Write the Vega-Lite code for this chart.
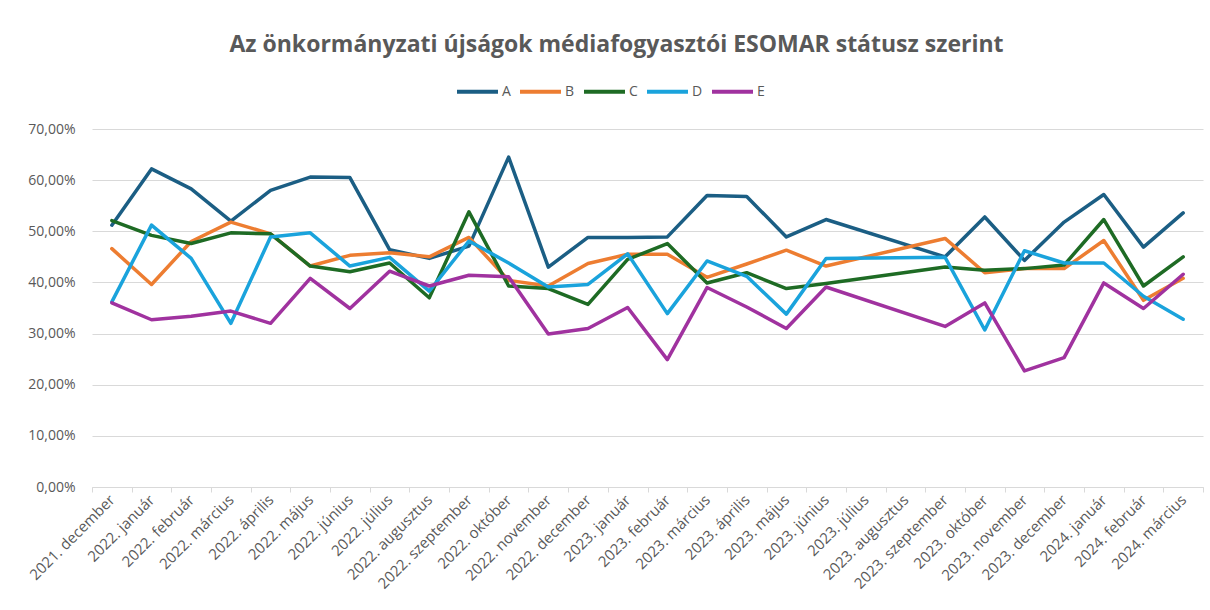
{
  "$schema": "https://vega.github.io/schema/vega-lite/v6.json",
  "width": 1111,
  "height": 358,
  "autosize": {"type": "none"},
  "padding": {"left": 92, "top": 129, "right": 7, "bottom": 123},
  "background": "white",
  "title": {
    "text": "Az önkormányzati újságok médiafogyasztói ESOMAR státusz szerint",
    "font": "Open Sans",
    "fontSize": 23,
    "fontWeight": "bold",
    "color": "#595959",
    "anchor": "middle",
    "frame": "group",
    "dx": -31,
    "baseline": "alphabetic",
    "offset": -6
  },
  "config": {
    "view": {"stroke": null},
    "font": "Open Sans"
  },
  "data": {
    "values": [
      {"m": "2021. december", "s": "A", "v": 0.512}, {"m": "2021. december", "s": "B", "v": 0.466}, {"m": "2021. december", "s": "C", "v": 0.521}, {"m": "2021. december", "s": "D", "v": 0.362}, {"m": "2021. december", "s": "E", "v": 0.360},
      {"m": "2022. január", "s": "A", "v": 0.622}, {"m": "2022. január", "s": "B", "v": 0.396}, {"m": "2022. január", "s": "C", "v": 0.492}, {"m": "2022. január", "s": "D", "v": 0.512}, {"m": "2022. január", "s": "E", "v": 0.327},
      {"m": "2022. február", "s": "A", "v": 0.583}, {"m": "2022. február", "s": "B", "v": 0.480}, {"m": "2022. február", "s": "C", "v": 0.476}, {"m": "2022. február", "s": "D", "v": 0.447}, {"m": "2022. február", "s": "E", "v": 0.334},
      {"m": "2022. március", "s": "A", "v": 0.520}, {"m": "2022. március", "s": "B", "v": 0.518}, {"m": "2022. március", "s": "C", "v": 0.497}, {"m": "2022. március", "s": "D", "v": 0.320}, {"m": "2022. március", "s": "E", "v": 0.344},
      {"m": "2022. április", "s": "A", "v": 0.580}, {"m": "2022. április", "s": "B", "v": 0.495}, {"m": "2022. április", "s": "C", "v": 0.495}, {"m": "2022. április", "s": "D", "v": 0.489}, {"m": "2022. április", "s": "E", "v": 0.320},
      {"m": "2022. május", "s": "A", "v": 0.606}, {"m": "2022. május", "s": "B", "v": 0.432}, {"m": "2022. május", "s": "C", "v": 0.432}, {"m": "2022. május", "s": "D", "v": 0.497}, {"m": "2022. május", "s": "E", "v": 0.408},
      {"m": "2022. június", "s": "A", "v": 0.605}, {"m": "2022. június", "s": "B", "v": 0.453}, {"m": "2022. június", "s": "C", "v": 0.421}, {"m": "2022. június", "s": "D", "v": 0.432}, {"m": "2022. június", "s": "E", "v": 0.349},
      {"m": "2022. július", "s": "A", "v": 0.464}, {"m": "2022. július", "s": "B", "v": 0.458}, {"m": "2022. július", "s": "C", "v": 0.438}, {"m": "2022. július", "s": "D", "v": 0.449}, {"m": "2022. július", "s": "E", "v": 0.422},
      {"m": "2022. augusztus", "s": "A", "v": 0.447}, {"m": "2022. augusztus", "s": "B", "v": 0.450}, {"m": "2022. augusztus", "s": "C", "v": 0.370}, {"m": "2022. augusztus", "s": "D", "v": 0.383}, {"m": "2022. augusztus", "s": "E", "v": 0.393},
      {"m": "2022. szeptember", "s": "A", "v": 0.471}, {"m": "2022. szeptember", "s": "B", "v": 0.488}, {"m": "2022. szeptember", "s": "C", "v": 0.538}, {"m": "2022. szeptember", "s": "D", "v": 0.481}, {"m": "2022. szeptember", "s": "E", "v": 0.414},
      {"m": "2022. október", "s": "A", "v": 0.645}, {"m": "2022. október", "s": "B", "v": 0.404}, {"m": "2022. október", "s": "C", "v": 0.393}, {"m": "2022. október", "s": "D", "v": 0.438}, {"m": "2022. október", "s": "E", "v": 0.411},
      {"m": "2022. november", "s": "A", "v": 0.430}, {"m": "2022. november", "s": "B", "v": 0.393}, {"m": "2022. november", "s": "C", "v": 0.388}, {"m": "2022. november", "s": "D", "v": 0.391}, {"m": "2022. november", "s": "E", "v": 0.299},
      {"m": "2022. december", "s": "A", "v": 0.488}, {"m": "2022. december", "s": "B", "v": 0.437}, {"m": "2022. december", "s": "C", "v": 0.357}, {"m": "2022. december", "s": "D", "v": 0.396}, {"m": "2022. december", "s": "E", "v": 0.310},
      {"m": "2023. január", "s": "A", "v": 0.488}, {"m": "2023. január", "s": "B", "v": 0.455}, {"m": "2023. január", "s": "C", "v": 0.445}, {"m": "2023. január", "s": "D", "v": 0.456}, {"m": "2023. január", "s": "E", "v": 0.351},
      {"m": "2023. február", "s": "A", "v": 0.489}, {"m": "2023. február", "s": "B", "v": 0.455}, {"m": "2023. február", "s": "C", "v": 0.476}, {"m": "2023. február", "s": "D", "v": 0.339}, {"m": "2023. február", "s": "E", "v": 0.249},
      {"m": "2023. március", "s": "A", "v": 0.570}, {"m": "2023. március", "s": "B", "v": 0.410}, {"m": "2023. március", "s": "C", "v": 0.399}, {"m": "2023. március", "s": "D", "v": 0.442}, {"m": "2023. március", "s": "E", "v": 0.390},
      {"m": "2023. április", "s": "A", "v": 0.568}, {"m": "2023. április", "s": "B", "v": 0.436}, {"m": "2023. április", "s": "C", "v": 0.419}, {"m": "2023. április", "s": "D", "v": 0.412}, {"m": "2023. április", "s": "E", "v": 0.352},
      {"m": "2023. május", "s": "A", "v": 0.489}, {"m": "2023. május", "s": "B", "v": 0.463}, {"m": "2023. május", "s": "C", "v": 0.388}, {"m": "2023. május", "s": "D", "v": 0.338}, {"m": "2023. május", "s": "E", "v": 0.310},
      {"m": "2023. június", "s": "A", "v": 0.523}, {"m": "2023. június", "s": "B", "v": 0.432}, {"m": "2023. június", "s": "C", "v": 0.398}, {"m": "2023. június", "s": "D", "v": 0.447}, {"m": "2023. június", "s": "E", "v": 0.391},
      {"m": "2023. szeptember", "s": "A", "v": 0.450}, {"m": "2023. szeptember", "s": "B", "v": 0.486}, {"m": "2023. szeptember", "s": "C", "v": 0.430}, {"m": "2023. szeptember", "s": "D", "v": 0.449}, {"m": "2023. szeptember", "s": "E", "v": 0.314},
      {"m": "2023. október", "s": "A", "v": 0.528}, {"m": "2023. október", "s": "B", "v": 0.419}, {"m": "2023. október", "s": "C", "v": 0.424}, {"m": "2023. október", "s": "D", "v": 0.307}, {"m": "2023. október", "s": "E", "v": 0.360},
      {"m": "2023. november", "s": "A", "v": 0.443}, {"m": "2023. november", "s": "B", "v": 0.427}, {"m": "2023. november", "s": "C", "v": 0.427}, {"m": "2023. november", "s": "D", "v": 0.462}, {"m": "2023. november", "s": "E", "v": 0.227},
      {"m": "2023. december", "s": "A", "v": 0.518}, {"m": "2023. december", "s": "B", "v": 0.427}, {"m": "2023. december", "s": "C", "v": 0.434}, {"m": "2023. december", "s": "D", "v": 0.438}, {"m": "2023. december", "s": "E", "v": 0.253},
      {"m": "2024. január", "s": "A", "v": 0.572}, {"m": "2024. január", "s": "B", "v": 0.482}, {"m": "2024. január", "s": "C", "v": 0.523}, {"m": "2024. január", "s": "D", "v": 0.438}, {"m": "2024. január", "s": "E", "v": 0.399},
      {"m": "2024. február", "s": "A", "v": 0.469}, {"m": "2024. február", "s": "B", "v": 0.365}, {"m": "2024. február", "s": "C", "v": 0.393}, {"m": "2024. február", "s": "D", "v": 0.373}, {"m": "2024. február", "s": "E", "v": 0.349},
      {"m": "2024. március", "s": "A", "v": 0.536}, {"m": "2024. március", "s": "B", "v": 0.408}, {"m": "2024. március", "s": "C", "v": 0.450}, {"m": "2024. március", "s": "D", "v": 0.328}, {"m": "2024. március", "s": "E", "v": 0.416}
    ]
  },
  "mark": {"type": "line", "strokeWidth": 3.5, "strokeJoin": "round", "strokeCap": "round"},
  "encoding": {
    "x": {
      "field": "m",
      "type": "ordinal",
      "sort": null,
      "scale": {
        "type": "band",
        "paddingInner": 0,
        "paddingOuter": 0,
        "domain": ["2021. december", "2022. január", "2022. február", "2022. március", "2022. április", "2022. május", "2022. június", "2022. július", "2022. augusztus", "2022. szeptember", "2022. október", "2022. november", "2022. december", "2023. január", "2023. február", "2023. március", "2023. április", "2023. május", "2023. június", "2023. július", "2023. augusztus", "2023. szeptember", "2023. október", "2023. november", "2023. december", "2024. január", "2024. február", "2024. március"]
      },
      "axis": {
        "title": null,
        "labelAngle": -45,
        "labelAlign": "right",
        "labelBaseline": "middle",
        "labelFont": "Open Sans",
        "labelFontSize": 15,
        "labelColor": "#595959",
        "labelPadding": 5,
        "domainColor": "#d9d9d9",
        "domainWidth": 1,
        "tickColor": "#d9d9d9",
        "tickSize": 5,
        "tickBand": "extent",
        "grid": false,
        "labelOverlap": false
      }
    },
    "y": {
      "field": "v",
      "type": "quantitative",
      "scale": {"domain": [0, 0.7], "nice": false},
      "axis": {
        "title": null,
        "values": [0, 0.1, 0.2, 0.3, 0.4, 0.5, 0.6, 0.7],
        "labelExpr": "replace(format(datum.value, '.2%'), '.', ',')",
        "labelFont": "Open Sans",
        "labelFontSize": 14,
        "labelColor": "#595959",
        "labelPadding": 17,
        "domain": false,
        "ticks": false,
        "grid": true,
        "gridColor": "#d9d9d9",
        "gridWidth": 1
      }
    },
    "color": {
      "field": "s",
      "type": "nominal",
      "scale": {
        "domain": ["A", "B", "C", "D", "E"],
        "range": ["#1B5E84", "#ED7D31", "#1E6B24", "#1AA3DC", "#A0329F"]
      },
      "legend": {
        "title": null,
        "orient": "none",
        "legendX": 363,
        "legendY": -60,
        "direction": "horizontal",
        "symbolType": "stroke",
        "symbolSize": 1681,
        "symbolStrokeWidth": 4,
        "labelFont": "Open Sans",
        "labelFontSize": 14,
        "labelColor": "#595959",
        "labelOffset": 2,
        "columnPadding": 1
      }
    }
  }
}
